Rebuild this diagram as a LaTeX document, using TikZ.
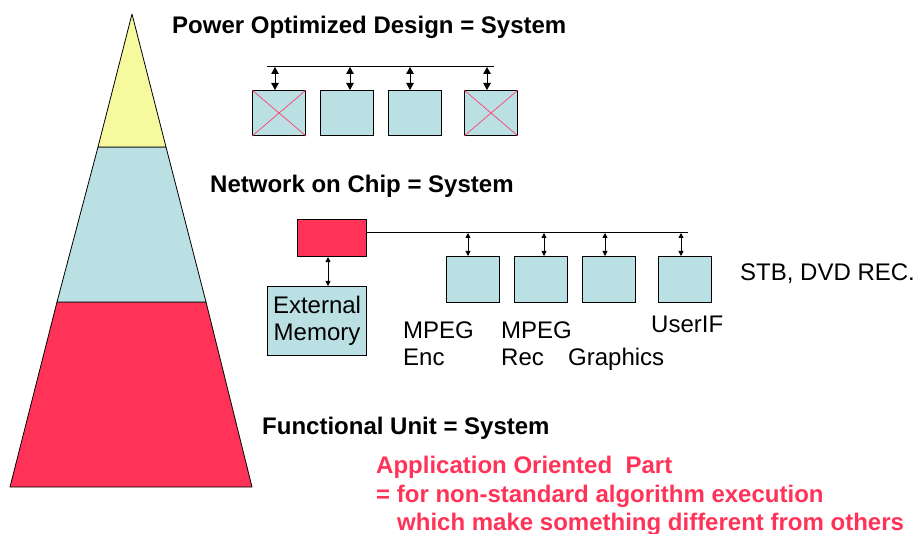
\documentclass[tikz,border=0pt]{standalone}
\usepackage{fontspec}
\setmainfont{Liberation Sans}
\usetikzlibrary{arrows.meta}
\definecolor{blockcyan}{HTML}{BBE0E3}
\definecolor{hotred}{HTML}{FF3358}
\definecolor{paleyellow}{HTML}{F7F99F}
\definecolor{crossred}{HTML}{FF4070}
\tikzset{
  txt/.style={font=\fontsize{24}{27}\selectfont, inner sep=0pt, anchor=base west},
  head/.style={txt, font=\fontsize{24}{27}\selectfont\bfseries},
  redtxt/.style={head, text=hotred},
  cbox/.style={draw=black, line width=1.1pt, fill=blockcyan, inner sep=0pt, anchor=north west},
  rbox/.style={cbox, fill=hotred},
  xcross/.style={draw=crossred, line width=0.7pt},
  bus/.style={draw=black, line width=1pt},
  dblbig/.style={draw=black, line width=1pt, {Triangle[length=7pt,width=7.5pt]}-{Triangle[length=7pt,width=7.5pt]}},
  dblsmall/.style={draw=black, line width=0.8pt, {Triangle[length=5pt,width=5pt]}-{Triangle[length=5pt,width=5pt]}},
  layer/.style={draw=black, line width=0.8pt, line join=round}
}
\begin{document}
\begin{tikzpicture}[x=1pt, y=-1pt]
\useasboundingbox (0,0) rectangle (917,534);

% three-layer pyramid
\filldraw[layer, fill=hotred] (57,302) -- (206,302) -- (252,487) -- (10,487) -- cycle;
\filldraw[layer, fill=blockcyan] (98,147) -- (166,147) -- (206,302) -- (57,302) -- cycle;
\filldraw[layer, fill=paleyellow] (132,14) -- (166,147) -- (98,147) -- cycle;

% headings
\node[head] (hpow) at (172,34) {Power Optimized Design = System};
\node[head] (hnoc) at (210,193) {Network on Chip = System};
\node[head] (hfun) at (262,434) {Functional Unit = System};

% power optimized design: shared bus with four blocks, two switched off
\node[cbox, minimum width=53pt, minimum height=45pt] (p1) at (252,90) {};
\node[cbox, minimum width=53pt, minimum height=45pt] (p2) at (320,90) {};
\node[cbox, minimum width=53pt, minimum height=45pt] (p3) at (388,90) {};
\node[cbox, minimum width=53pt, minimum height=45pt] (p4) at (464,90) {};
\draw[xcross] (p1.north west) -- (p1.south east) (p1.north east) -- (p1.south west);
\draw[xcross] (p4.north west) -- (p4.south east) (p4.north east) -- (p4.south west);
\coordinate (pbs) at (267,67);
\coordinate (pbe) at (494,67);
\draw[bus] (pbs) -- (pbe);
\coordinate (pt1) at (275,67);
\coordinate (pt2) at (350,67);
\coordinate (pt3) at (410,67);
\coordinate (pt4) at (487,67);
\draw[dblbig] (pt1) -- (pt1 |- p1.north);
\draw[dblbig] (pt2) -- (pt2 |- p2.north);
\draw[dblbig] (pt3) -- (pt3 |- p3.north);
\draw[dblbig] (pt4) -- (pt4 |- p4.north);

% network on chip
\node[rbox, minimum width=69pt, minimum height=37pt] (cpu) at (297,219) {};
\node[cbox, minimum width=99pt, minimum height=69pt, align=center,
      font=\fontsize{24}{27}\selectfont] (mem) at (267,286) {External\\Memory};
\draw[dblsmall] (cpu.south -| 328,0) -- (mem.north -| 328,0);
\coordinate (nbe) at (688,233);
\draw[bus] (cpu.east |- nbe) -- (nbe);
\node[cbox, minimum width=53pt, minimum height=46pt] (m1) at (446,256) {};
\node[cbox, minimum width=53pt, minimum height=46pt] (m2) at (514,256) {};
\node[cbox, minimum width=53pt, minimum height=46pt] (m3) at (582,256) {};
\node[cbox, minimum width=53pt, minimum height=46pt] (m4) at (658,256) {};
\coordinate (nt1) at (468,233);
\coordinate (nt2) at (544,233);
\coordinate (nt3) at (605,233);
\coordinate (nt4) at (681,233);
\draw[dblsmall] (nt1) -- (nt1 |- m1.north);
\draw[dblsmall] (nt2) -- (nt2 |- m2.north);
\draw[dblsmall] (nt3) -- (nt3 |- m3.north);
\draw[dblsmall] (nt4) -- (nt4 |- m4.north);

% block labels
\node[txt] (l1a) at (403,338) {MPEG};
\node[txt] (l1b) at (403,365) {Enc};
\node[txt] (l2a) at (501,338) {MPEG};
\node[txt] (l2b) at (501,365) {Rec};
\node[txt] (l3) at (568,365) {Graphics};
\node[txt] (l4) at (651,332) {UserIF};
\node[txt] (app) at (740,280) {STB, DVD REC.};

% application oriented part
\node[redtxt] (r1) at (376,473) {Application Oriented\ \ Part};
\node[redtxt] (r2) at (376,502) {= for non-standard algorithm execution};
\node[redtxt] (r3) at (397,530) {which make something different from others};
\end{tikzpicture}
\end{document}
